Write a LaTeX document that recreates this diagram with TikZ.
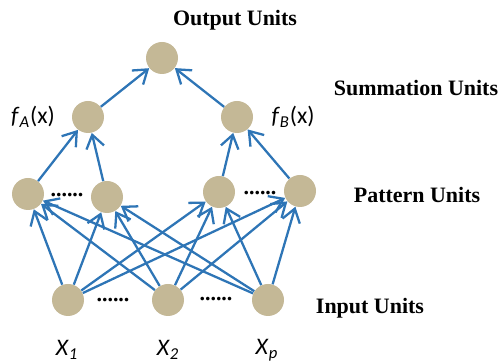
\documentclass[tikz,border=0pt]{standalone}
\usepackage{fontspec}
\setmainfont{Liberation Serif}
\newfontfamily\calib{Carlito}
\usetikzlibrary{arrows.meta}

\definecolor{unittan}{RGB}{196,184,150}
\definecolor{linkblue}{RGB}{46,117,182}

\begin{document}
\begin{tikzpicture}[
    unit/.style={circle, fill=unittan, inner sep=0pt, minimum size=0.64cm},
    link/.style={-{Straight Barb[length=2.6mm,width=3.6mm]}, linkblue, line width=1.3pt},
    layer/.style={font=\fontsize{12.5}{14}\selectfont\bfseries},
    dots/.style={font=\fontsize{12.5}{14}\selectfont\bfseries, inner sep=0pt},
    var/.style={font=\calib\fontsize{13.5}{15}\selectfont}
  ]
      \useasboundingbox (0, 0) rectangle (10.04, 7.28);
      % units
      \node[unit] (out) at (3.24, 6.12) {};
      \node[unit] (suma) at (1.76, 4.94) {};
      \node[unit] (sumb) at (4.74, 4.94) {};
      \node[unit] (pat1) at (0.56, 3.40) {};
      \node[unit] (pat2) at (2.14, 3.34) {};
      \node[unit] (pat3) at (4.38, 3.44) {};
      \node[unit] (pat4) at (6.00, 3.46) {};
      \node[unit] (in1) at (1.36, 1.28) {};
      \node[unit] (in2) at (3.36, 1.28) {};
      \node[unit] (inp) at (5.36, 1.28) {};
      % dots between units
      \node[dots] (dpat12) at (1.34, 3.38) {......};
      \node[dots] (dpat34) at (5.20, 3.42) {......};
      \node[dots] (din12) at (2.26, 1.28) {......};
      \node[dots] (din2p) at (4.32, 1.30) {......};
      % layer names
      \node[layer] (outl) at (4.70, 6.88) {Output Units};
      \node[layer] (suml) at (8.32, 5.52) {Summation Units};
      \node[layer] (patl) at (8.34, 3.38) {Pattern Units};
      \node[layer] (inl) at (7.40, 1.12) {Input Units};
      % functions and inputs
      \node[var] (fa) at (0.66, 4.94) {\textit{f}\textsubscript{\textit{A}}(x)};
      \node[var] (fb) at (5.86, 4.94) {\textit{f}\textsubscript{\textit{B}}(x)};
      \node[var] (x1) at (1.34, 0.28) {\textit{X}\textsubscript{\textit{1}}};
      \node[var] (x2) at (3.36, 0.28) {\textit{X}\textsubscript{\textit{2}}};
      \node[var] (xp) at (5.34, 0.28) {\textit{X}\textsubscript{\textit{p}}};
      % input -> pattern
      \draw[link] (in1) to (pat1);
      \draw[link] (in1) to (pat2);
      \draw[link] (in1) to (pat3);
      \draw[link] (in1) to (pat4);
      \draw[link] (in2) to (pat1);
      \draw[link] (in2) to (pat2);
      \draw[link] (in2) to (pat3);
      \draw[link] (in2) to (pat4);
      \draw[link] (inp) to (pat1);
      \draw[link] (inp) to (pat2);
      \draw[link] (inp) to (pat3);
      \draw[link] (inp) to (pat4);
      % pattern -> summation -> output
      \draw[link] (pat1) to (suma);
      \draw[link] (pat2) to (suma);
      \draw[link] (pat3) to (sumb);
      \draw[link] (pat4) to (sumb);
      \draw[link] (suma) to (out);
      \draw[link] (sumb) to (out);
    \end{tikzpicture}
\end{document}
